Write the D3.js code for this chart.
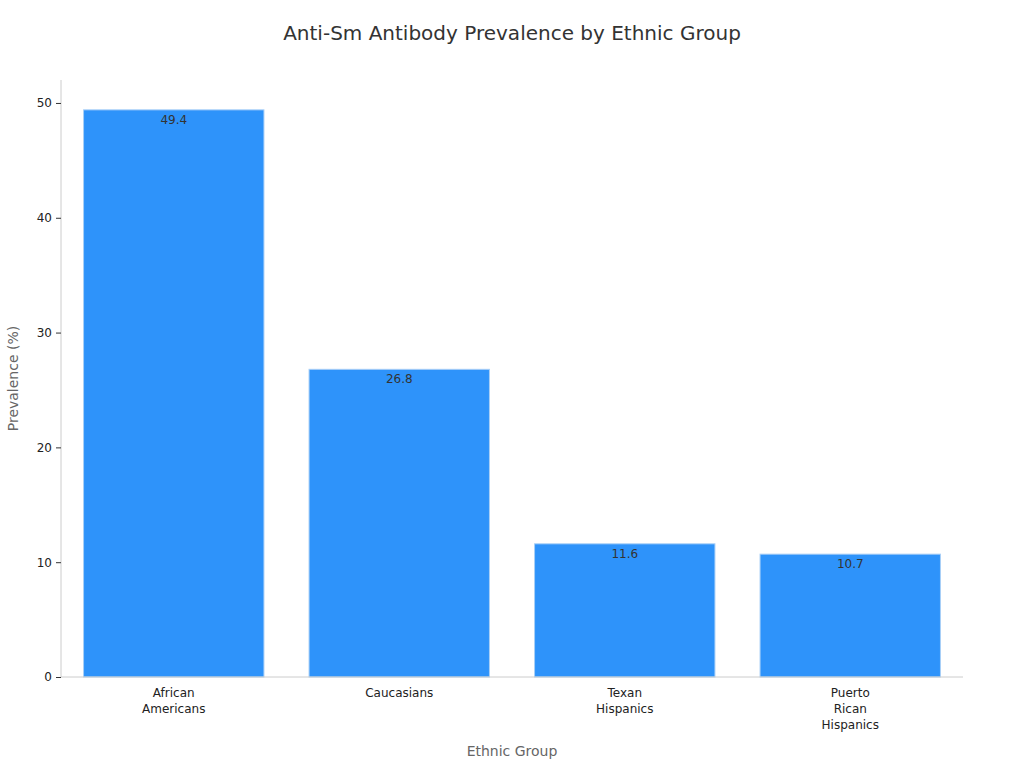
<!DOCTYPE html>
<html>
<head>
<meta charset="utf-8">
<script src="https://cdn.jsdelivr.net/npm/d3@7"></script>
<style>
  body { margin: 0; background: #fff; font-family: "DejaVu Sans", sans-serif; }
</style>
</head>
<body>
<div id="chart"></div>
<script>
var categories = [["African", "Americans"], ["Caucasians"], ["Texan", "Hispanics"], ["Puerto", "Rican", "Hispanics"]];
var values = [49.4, 26.8, 11.6, 10.7];
var yTicks = [0, 10, 20, 30, 40, 50];

function init () {
    var w = 1024, h = 768;
    var plotLeft = 61, plotRight = 963, plotTop = 80, plotBottom = 677;

    var svg = d3.select("#chart").append("svg")
        .attr("width", w)
        .attr("height", h);

    var xScale = d3.scaleBand()
        .domain(d3.range(values.length))
        .range([plotLeft, plotRight])
        .paddingInner(0.2)
        .paddingOuter(0.1);

    var yScale = d3.scaleLinear()
        .domain([0, 52])
        .range([plotBottom, plotTop]);

    svg.append("text")
        .attr("x", 512).attr("y", 40)
        .attr("text-anchor", "middle")
        .style("font-size", "20px")
        .style("fill", "#333")
        .text("Anti-Sm Antibody Prevalence by Ethnic Group");

    // y axis
    var yAxis = svg.append("g")
        .attr("transform", "translate(" + plotLeft + ",0)")
        .call(d3.axisLeft(yScale).tickValues(yTicks).tickSize(5).tickPadding(4));
    yAxis.select(".domain").attr("stroke", "#ccc").attr("d", "M0," + plotTop + "V" + plotBottom);
    yAxis.selectAll(".tick line").attr("stroke", "#333");
    yAxis.selectAll("text").style("font-size", "12px").style("fill", "#222").style("font-family", "DejaVu Sans");

    svg.selectAll("rect.bar")
        .data(values)
        .enter()
        .append("rect")
        .attr("class", "bar")
        .attr("x", function(d, i){ return xScale(i); })
        .attr("y", function(d){ return yScale(d); })
        .attr("width", xScale.bandwidth())
        .attr("height", function(d){ return plotBottom - yScale(d); })
        .style("fill", "#2e93fa")
        .style("stroke", "#a8cff7")
        .style("stroke-width", 1);

    svg.selectAll("text.val")
        .data(values)
        .enter()
        .append("text")
        .attr("class", "val")
        .attr("x", function(d, i){ return xScale(i) + xScale.bandwidth() / 2; })
        .attr("y", function(d){ return yScale(d) + 14; })
        .attr("text-anchor", "middle")
        .style("font-size", "12px")
        .style("fill", "#333")
        .text(function(d){ return d; });

    // x axis line
    svg.append("line")
        .attr("x1", plotLeft).attr("x2", plotRight)
        .attr("y1", plotBottom).attr("y2", plotBottom)
        .attr("stroke", "#ccc");

    var xl = svg.selectAll("text.cat")
        .data(categories)
        .enter()
        .append("text")
        .attr("class", "cat")
        .attr("x", function(d, i){ return xScale(i) + xScale.bandwidth() / 2; })
        .attr("y", plotBottom + 20)
        .attr("text-anchor", "middle")
        .style("font-size", "12px")
        .style("fill", "#222");
    xl.selectAll("tspan")
        .data(function(d){ return d; })
        .enter()
        .append("tspan")
        .attr("x", function(){ return d3.select(this.parentNode).attr("x"); })
        .attr("dy", function(d, i){ return i === 0 ? 0 : 16; })
        .text(function(d){ return d; });

    svg.append("text")
        .attr("x", 512).attr("y", 756)
        .attr("text-anchor", "middle")
        .style("font-size", "14px")
        .style("fill", "#666")
        .text("Ethnic Group");

    svg.append("text")
        .attr("transform", "translate(18," + ((plotTop + plotBottom) / 2) + ") rotate(-90)")
        .attr("text-anchor", "middle")
        .style("font-size", "14px")
        .style("fill", "#666")
        .text("Prevalence (%)");
}

init();
</script>
</body>
</html>
